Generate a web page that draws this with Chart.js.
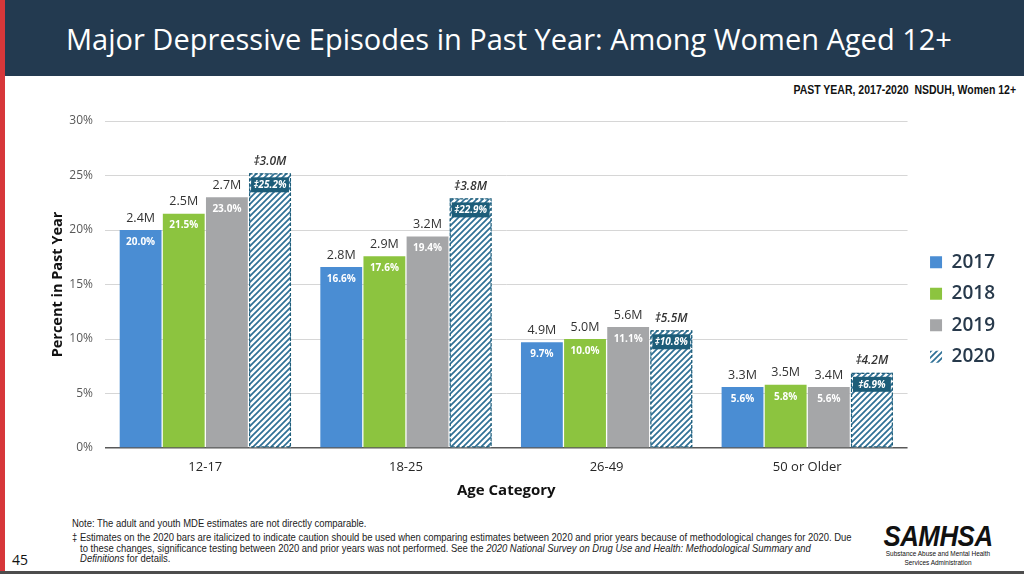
<!DOCTYPE html>
<html>
<head>
<meta charset="utf-8">
<script src="https://cdn.jsdelivr.net/npm/chart.js@4.4.0/dist/chart.umd.min.js"></script>
<style>
html, body { margin:0; padding:0; width:1024px; height:576px; overflow:hidden; background:#fff; font-family:"Open Sans", sans-serif; }
#hdr { position:absolute; left:0; top:0; width:1024px; height:76px; background:#233a50; }
#hdr h1 { margin:0; position:absolute; left:66px; top:19px; color:#fff; font-weight:500; font-size:29px; line-height:40px; white-space:nowrap; }
#redbar { position:absolute; left:0; top:0; width:5px; height:572px; background:#d7373a; }
#sub { position:absolute; right:8px; top:83px; font-family:"Liberation Sans", sans-serif; font-weight:bold; font-size:12.5px; color:#111; white-space:nowrap; transform:scaleX(0.84); transform-origin:right top; }
#wrap { position:absolute; left:0; top:100px; width:1024px; height:410px; }
#notes { position:absolute; left:72px; top:518px; font-family:"Liberation Sans", sans-serif; font-size:10.5px; line-height:10.6px; color:#222; white-space:nowrap; transform:scaleX(0.9); transform-origin:left top; }
#notes p { margin:0 0 3.5px 0; }
#notes .ind { padding-left:9px; }
#page { position:absolute; left:12px; top:550px; font-size:14px; color:#111; }
#logo { position:absolute; left:868px; top:522px; width:140px; text-align:center; font-family:"Liberation Sans", sans-serif; color:#111; }
#logo .big { font-weight:bold; font-style:italic; font-size:30px; line-height:28px; letter-spacing:-0.5px; transform:scaleX(0.86); }
#logo .small { font-size:7.5px; line-height:8.5px; transform:scaleX(0.86); }
#bottomline { position:absolute; left:0; top:571px; width:1024px; height:3px; background:#4d4d4d; }
</style>
</head>
<body>
<div id="hdr"><h1>Major Depressive Episodes in Past Year: Among Women Aged 12+</h1></div>
<div id="redbar"></div>
<div id="sub">PAST YEAR, 2017-2020&nbsp; NSDUH, Women 12+</div>
<div id="wrap"><canvas id="myChart" width="1024" height="410"></canvas></div>
<div id="notes">
  <p>Note: The adult and youth MDE estimates are not directly comparable.</p>
  <p>‡ Estimates on the 2020 bars are italicized to indicate caution should be used when comparing estimates between 2020 and prior years because of methodological changes for 2020. Due<br>
  <span class="ind">to these changes, significance testing between 2020 and prior years was not performed. See the <i>2020 National Survey on Drug Use and Health: Methodological Summary and</i></span><br>
  <span class="ind"><i>Definitions</i> for details.</span></p>
</div>
<div id="page">45</div>
<div id="logo"><div class="big">SAMHSA</div><div class="small">Substance Abuse and Mental Health<br>Services Administration</div></div>
<div id="bottomline"></div>
<script>
// data
const categories = ['12-17', '18-25', '26-49', '50 or Older'];
const years = ['2017', '2018', '2019', '2020'];
const pct2017 = [20.0, 16.6, 9.7, 5.6];
const pct2018 = [21.5, 17.6, 10.0, 5.8];
const pct2019 = [23.0, 19.4, 11.1, 5.6];
const pct2020 = [25.2, 22.9, 10.8, 6.9];
const num2017 = ['2.4M', '2.8M', '4.9M', '3.3M'];
const num2018 = ['2.5M', '2.9M', '5.0M', '3.5M'];
const num2019 = ['2.7M', '3.2M', '5.6M', '3.4M'];
const num2020 = ['3.0M', '3.8M', '5.5M', '4.2M'];
const yTicks = [0, 5, 10, 15, 20, 25, 30];

const stripeColor = '#2f7096';
const boxColor = '#1d5d79';

// hatch pattern for 2020
function makeHatch() {
  const c = document.createElement('canvas');
  c.width = 6; c.height = 6;
  const g = c.getContext('2d');
  g.fillStyle = '#fff';
  g.fillRect(0, 0, 6, 6);
  g.strokeStyle = stripeColor;
  g.lineWidth = 1.7;
  g.beginPath();
  g.moveTo(-1, 7); g.lineTo(7, -1);
  g.moveTo(-4, 4); g.lineTo(4, -4);
  g.moveTo(2, 10); g.lineTo(10, 2);
  g.stroke();
  return document.getElementById('myChart').getContext('2d').createPattern(c, 'repeat');
}
const hatch = makeHatch();

const pctData = [pct2017, pct2018, pct2019, pct2020];
const numData = [num2017, num2018, num2019, num2020];
const colors = ['#4a8dd3', '#8cc43f', '#a5a6a8', hatch];

const barLabels = {
  id: 'barLabels',
  afterLayout(chart) {
    // nudge the legend a bit right and up
    chart.legend.left += 10;
    chart.legend.top -= 6;
    chart.legend.bottom -= 6;
  },
  afterDatasetsDraw(chart) {
    const ctx = chart.ctx;
    ctx.save();
    ctx.textAlign = 'center';
    ctx.textBaseline = 'middle';
    chart.data.datasets.forEach((ds, i) => {
      chart.getDatasetMeta(i).data.forEach((bar, j) => {
        const w = bar.width;
        const left = bar.x - w / 2;
        const top = bar.y;
        const pct = pctData[i][j].toFixed(1) + '%';
        if (i === 3) {
          // dashed outline
          ctx.setLineDash([3, 2]);
          ctx.strokeStyle = boxColor;
          ctx.lineWidth = 1.2;
          ctx.strokeRect(left + 0.5, top + 0.5, w - 1, bar.base - top - 1);
          ctx.setLineDash([]);
          ctx.fillStyle = boxColor;
          ctx.fillRect(left + 2, top + 4, w - 4, 15);
          ctx.fillStyle = '#fff';
          ctx.font = 'italic bold 10px "Open Sans"';
          ctx.fillText('‡' + pct, bar.x, top + 12);
          ctx.fillStyle = '#333';
          ctx.font = 'italic 600 12px "Open Sans"';
          ctx.fillText('‡' + numData[i][j], bar.x, top - 12);
        } else {
          ctx.fillStyle = '#fff';
          ctx.font = 'bold 10px "Open Sans"';
          ctx.fillText(pct, bar.x, top + 12);
          ctx.fillStyle = '#333';
          ctx.font = '12.5px "Open Sans"';
          ctx.fillText(numData[i][j], bar.x, top - 12);
        }
      });
    });
    ctx.restore();
  }
};

const ctx = document.getElementById('myChart');
const myChart = new Chart(ctx, {
  type: 'bar',
  data: {
    labels: categories,
    datasets: years.map((y, i) => ({
      label: y,
      data: pctData[i],
      backgroundColor: colors[i],
      borderWidth: 0,
      categoryPercentage: 0.86,
      barPercentage: 0.97
    }))
  },
  options: {
    responsive: false,
    animation: false,
    layout: { padding: { left: 40, top: 21, right: 29, bottom: 0 } },
    plugins: {
      tooltip: { enabled: false },
      legend: {
        position: 'right',
        labels: {
          boxWidth: 12,
          boxHeight: 12,
          padding: 12.5,
          color: '#27394b',
          font: { family: 'Open Sans', size: 19, weight: '600' }
        }
      }
    },
    scales: {
      x: {
        grid: { display: false },
        border: { display: false },
        ticks: { color: '#262626', font: { family: 'Open Sans', size: 13 }, padding: 3 },
        title: { display: true, text: 'Age Category', color: '#111', font: { family: 'Open Sans', size: 15, weight: 'bold' }, padding: { top: 0, bottom: 10 } },
        afterFit(s) { s.height = 62; }
      },
      y: {
        min: 0,
        max: 30,
        afterBuildTicks(s) { s.ticks = yTicks.map(v => ({ value: v })); },
        grid: {
          drawTicks: false,
          color: c => c.tick && c.tick.value === 0 ? '#595959' : '#d6d6d6',
          lineWidth: c => c.tick && c.tick.value === 0 ? 1.5 : 1
        },
        border: { display: false },
        ticks: { color: '#595959', font: { family: 'Open Sans', size: 12 }, padding: 12, callback: v => v + '%' },
        title: { display: true, text: 'Percent in Past Year', color: '#111', font: { family: 'Open Sans', size: 14.5, weight: 'bold' }, padding: { top: 9, bottom: 4 } },
        afterFit(s) { s.width = 65; }
      }
    }
  },
  plugins: [barLabels]
});
</script>
</body>
</html>
